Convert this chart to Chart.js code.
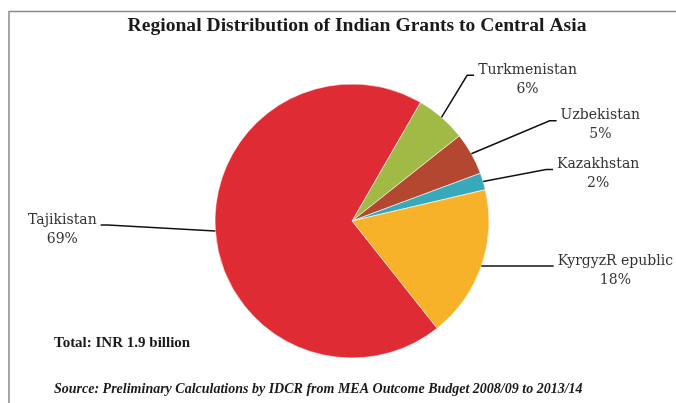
<!DOCTYPE html>
<html>
<head>
<meta charset="utf-8">
<script src="https://cdn.jsdelivr.net/npm/chart.js@4.4.1/dist/chart.umd.min.js"></script>
<style>
  html, body { margin: 0; padding: 0; background: #fff; }
  #wrap { width: 676px; height: 403px; position: relative; }
</style>
</head>
<body>
<div id="wrap"><canvas id="chart-1"></canvas></div>
<script>
// ====== data ======
const countries = ['Turkmenistan', 'Uzbekistan', 'Kazakhstan', 'KyrgyzR epublic', 'Tajikistan'];
const shares = [6, 5, 2, 18, 69]; // % of total grants
const sliceColors = ['#A1B945', '#B4472F', '#37A9BB', '#F7B22A', '#DF2B33'];

// where each label sits, relative to the middle of its slice's outer edge
const labelOffsets = [[86, -47], [129, -38], [115, -17], [134, -5], [-153, -11]];

// leader lines + two-line labels (name / percent)
const pieLabels = {
  id: 'pieLabels',
  afterDatasetsDraw(chart) {
    const ctx = chart.ctx;
    const meta = chart.getDatasetMeta(0);
    ctx.save();
    ctx.font = '14px "DejaVu Serif"';
    ctx.textAlign = 'center';
    ctx.textBaseline = 'middle';
    meta.data.forEach((arc, i) => {
      const p = arc.getProps(['x', 'y', 'startAngle', 'endAngle', 'outerRadius'], true);
      const mid = (p.startAngle + p.endAngle) / 2;
      const ex = p.x + Math.cos(mid) * p.outerRadius;
      const ey = p.y + Math.sin(mid) * p.outerRadius;
      const tx = ex + labelOffsets[i][0];
      const ty = ey + labelOffsets[i][1];
      const name = chart.data.labels[i];
      const w = ctx.measureText(name).width;
      const right = tx > p.x;
      const end = right ? tx - w / 2 - 4 : tx + w / 2 + 4;
      const elbow = right ? end - 7 : end + 7;
      const ly = ty + 5;

      ctx.strokeStyle = '#111';
      ctx.lineWidth = 1.5;
      ctx.beginPath();
      ctx.moveTo(ex, ey);
      ctx.lineTo(elbow, ly);
      ctx.lineTo(end, ly);
      ctx.stroke();

      ctx.fillStyle = '#333';
      ctx.fillText(name, tx, ty);
      ctx.fillText(chart.data.datasets[0].data[i] + '%', tx, ty + 19);
    });
    ctx.restore();
  }
};

// frame, heading and notes around the pie
const frameNotes = {
  id: 'frameNotes',
  afterDraw(chart) {
    const ctx = chart.ctx;
    ctx.save();
    ctx.strokeStyle = '#8a8a8a';
    ctx.lineWidth = 1.5;
    ctx.beginPath();
    ctx.moveTo(9, 403);
    ctx.lineTo(9, 11.5);
    ctx.lineTo(676, 11.5);
    ctx.stroke();

    ctx.fillStyle = '#1a1a1a';
    ctx.textBaseline = 'middle';
    ctx.textAlign = 'center';
    ctx.font = 'bold 19.6px "Liberation Serif"';
    ctx.fillText('Regional Distribution of Indian Grants to Central Asia', 357, 26);

    ctx.textAlign = 'left';
    ctx.font = 'bold 15px "Liberation Serif"';
    ctx.fillText('Total: INR 1.9 billion', 54, 343);
    ctx.font = 'italic bold 14px "Liberation Serif"';
    ctx.fillText('Source: Preliminary Calculations by IDCR from MEA Outcome Budget 2008/09 to 2013/14', 54, 389);
    ctx.restore();
  }
};

const ctx1 = document.getElementById('chart-1');

new Chart(ctx1, {
  type: 'pie',
  data: {
    labels: countries,
    datasets: [{
      data: shares,
      backgroundColor: sliceColors,
      borderColor: '#ffffff',
      borderWidth: 0.6,
      radius: 137
    }]
  },
  options: {
    responsive: true,
    maintainAspectRatio: false,
    animation: false,
    rotation: 30,
    layout: {
      padding: { top: 74, left: 38, right: 10, bottom: 35 }
    },
    plugins: {
      legend: { display: false },
      tooltip: { enabled: false },
      title: { display: false }
    }
  },
  plugins: [pieLabels, frameNotes]
});
</script>
</body>
</html>
